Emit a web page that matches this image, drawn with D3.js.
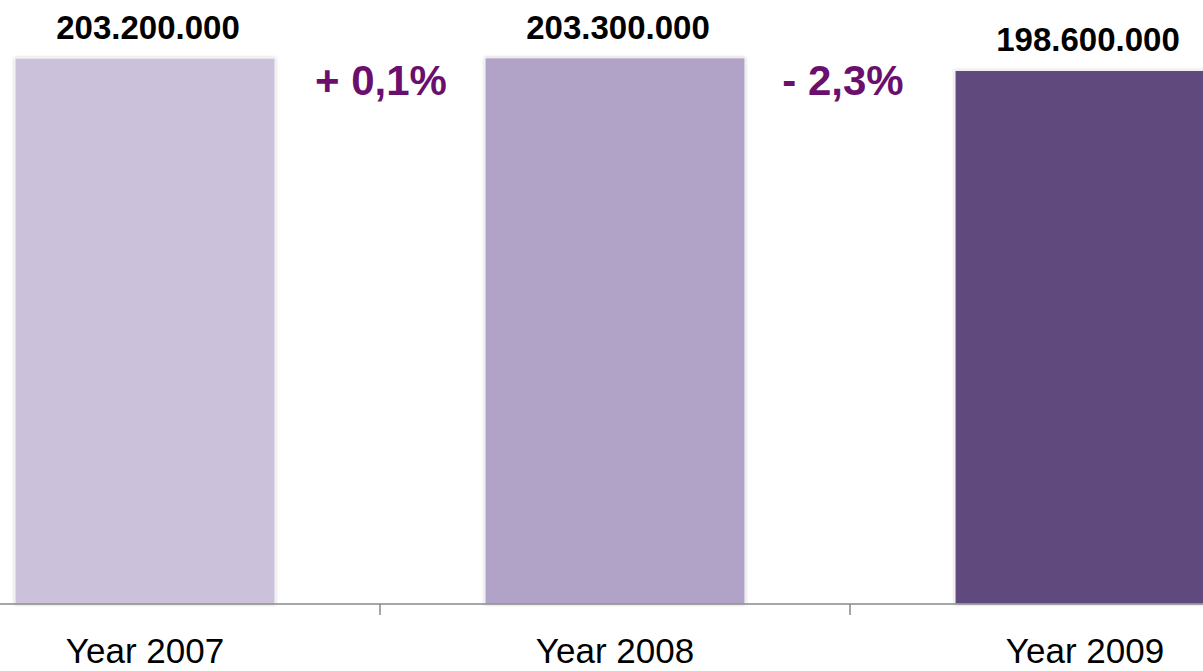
<!DOCTYPE html>
<html>
<head>
<meta charset="utf-8">
<script src="https://cdn.jsdelivr.net/npm/d3@7"></script>
<style>
  html, body { margin: 0; padding: 0; background: #ffffff; overflow: hidden; }
</style>
</head>
<body>
<div id="chart"></div>
<script>
const years = ["Year 2007", "Year 2008", "Year 2009"];
const values = [203200000, 203300000, 198600000];
const valueLabels = ["203.200.000", "203.300.000", "198.600.000"];
const changeLabels = ["+ 0,1%", "- 2,3%"];
const barColors = ["#cbc1db", "#b1a2c7", "#604a7b"];

const width = 1203, height = 671, baseY = 604;

const svg = d3.select("#chart")
  .append("svg")
  .attr("width", width)
  .attr("height", height);

// soft shadow on the bars
const defs = svg.append("defs");
const f = defs.append("filter").attr("id", "shadow")
  .attr("x", "-5%").attr("y", "-5%").attr("width", "110%").attr("height", "110%");
f.append("feDropShadow")
  .attr("dx", 0).attr("dy", 0).attr("stdDeviation", 1.5)
  .attr("flood-color", "#000").attr("flood-opacity", 0.25);

const x = d3.scaleBand()
  .domain(years)
  .range([-90, 1320])
  .paddingInner(0.447)
  .paddingOuter(0.2235);

const y = d3.scaleLinear()
  .domain([0, 220000000])
  .range([baseY, 13]);

const data = years.map((yr, i) => ({year: yr, value: values[i], label: valueLabels[i], color: barColors[i]}));

// bars
svg.selectAll("rect.bar")
  .data(data)
  .enter()
  .append("rect")
  .attr("class", "bar")
  .attr("x", d => x(d.year))
  .attr("y", d => y(d.value))
  .attr("width", x.bandwidth())
  .attr("height", d => baseY - y(d.value))
  .attr("fill", d => d.color)
  .attr("stroke", "#f2f2f2")
  .attr("stroke-width", 1)
  .attr("filter", "url(#shadow)");

// x axis
const axis = svg.append("g")
  .attr("transform", `translate(0,${baseY})`)
  .call(d3.axisBottom(x).tickSize(0))
  .style("font-family", "'Liberation Sans', Arial, sans-serif")
  .style("font-size", "35px")
  .style("color", "#000000");
axis.select(".domain")
  .attr("d", `M0,0H${width}`)
  .attr("stroke", "#888888")
  .attr("stroke-width", 1.5);
axis.selectAll(".tick text")
  .attr("y", 59)
  .attr("dy", 0);

// tick marks between categories
const gap = x.step() - x.bandwidth();
const bounds = years.slice(0, -1).map(yr => x(yr) + x.bandwidth() + gap / 2);
svg.selectAll("line.sep")
  .data(bounds)
  .enter()
  .append("line")
  .attr("x1", d => d).attr("x2", d => d)
  .attr("y1", baseY).attr("y2", baseY + 11)
  .attr("stroke", "#888888")
  .attr("stroke-width", 1.5);

// value labels
svg.selectAll("text.val")
  .data(data)
  .enter()
  .append("text")
  .attr("x", d => x(d.year) + x.bandwidth() / 2 + 3)
  .attr("y", d => y(d.value) - 19)
  .attr("text-anchor", "middle")
  .style("font-family", "'Liberation Sans', Arial, sans-serif")
  .style("font-size", "33px")
  .style("font-weight", "bold")
  .style("fill", "#000000")
  .text(d => d.label);

// change labels
svg.selectAll("text.chg")
  .data(changeLabels)
  .enter()
  .append("text")
  .attr("x", (d, i) => bounds[i] + (i === 0 ? 1 : -7))
  .attr("y", 95)
  .attr("text-anchor", "middle")
  .style("font-family", "'Liberation Sans', Arial, sans-serif")
  .style("font-size", "42px")
  .style("font-weight", "bold")
  .style("fill", "#6b0f6e")
  .text(d => d);
</script>
</body>
</html>
